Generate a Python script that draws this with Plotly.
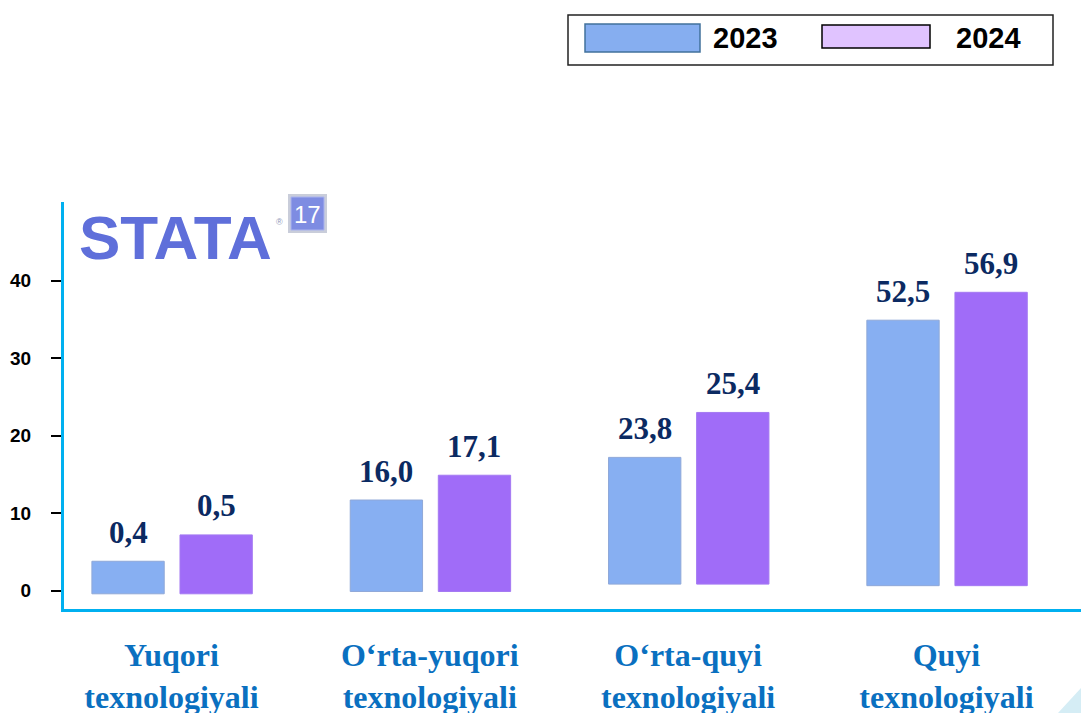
import plotly.graph_objects as go

# ---------------- data ----------------
categories = ["Yuqori", "O‘rta-yuqori", "O‘rta-quyi", "Quyi"]
category_suffix = "texnologiyali"
series_names = ["2023", "2024"]
labels_2023 = [0.4, 16.0, 23.8, 52.5]
labels_2024 = [0.5, 17.1, 25.4, 56.9]
# drawn bar extents (axis units)
bar_top_2023 = [3.8, 11.7, 17.2, 34.9]
bar_top_2024 = [7.2, 14.9, 23.0, 38.5]
bar_base = [-0.4, -0.1, 0.85, 0.65]
y_ticks = [0, 10, 20, 30, 40]

# ---------------- styling ----------------
W, H = 1081, 713
ML, MR, MT, MB = 64, 0, 202, 104
PW, PH = W - ML - MR, H - MT - MB
BLUE = "#87AFF2"
PURPLE = "#A06CF8"
AXIS = "#00B0F0"
NAVY = "#0B2A62"
CAT = "#0A70C0"
SERIF = "Liberation Serif"
SANS = "Liberation Sans"

xi = list(range(len(categories)))
BW = 0.28
OFF = [-0.308, 0.033]


def px(x):
    return (x - ML) / PW


def py(y):
    return (H - MB - y) / PH


def fmt(v):
    return f"{v:.1f}".replace(".", ",")


fig = go.Figure()
for name, tops, color, off, lc in [
    (series_names[0], bar_top_2023, BLUE, OFF[0], "#8FA8D8"),
    (series_names[1], bar_top_2024, PURPLE, OFF[1], "#A47AF2"),
]:
    fig.add_trace(go.Bar(
        name=name, x=xi, y=[t - b for t, b in zip(tops, bar_base)], base=bar_base,
        width=BW, offset=off, marker=dict(color=color, line=dict(color=lc, width=1)),
        showlegend=False, hoverinfo="skip",
    ))

annotations = []
for labels, tops, off in [(labels_2023, bar_top_2023, OFF[0]), (labels_2024, bar_top_2024, OFF[1])]:
    for i, (lab, top) in enumerate(zip(labels, tops)):
        annotations.append(dict(
            x=xi[i] + off + BW / 2, y=top, xref="x", yref="y", text=fmt(lab),
            showarrow=False, xanchor="center", yanchor="middle", yshift=29,
            font=dict(family=SERIF, size=31, color=NAVY, weight="bold"),
        ))

# logo
annotations.append(dict(x=px(175), y=py(238), xref="paper", yref="paper", text="STATA",
                        showarrow=False, xanchor="center", yanchor="middle",
                        font=dict(family=SANS, size=62, color="#5F6FDA", weight="bold")))
annotations.append(dict(x=px(279), y=py(222), xref="paper", yref="paper", text="®",
                        showarrow=False, xanchor="center", yanchor="middle",
                        font=dict(family=SANS, size=9, color="#9098B8")))
annotations.append(dict(x=px(307.5), y=py(214), xref="paper", yref="paper", text="17",
                        showarrow=False, xanchor="center", yanchor="middle",
                        font=dict(family=SANS, size=24, color="white")))

# legend texts
annotations.append(dict(x=px(711), y=py(38), xref="paper", yref="paper", text=series_names[0],
                        showarrow=False, xanchor="left", yanchor="middle",
                        font=dict(family=SANS, size=29, color="black", weight="bold")))
annotations.append(dict(x=px(954), y=py(38), xref="paper", yref="paper", text=series_names[1],
                        showarrow=False, xanchor="left", yanchor="middle",
                        font=dict(family=SANS, size=29, color="black", weight="bold")))

shapes = [
    # logo "17" box
    dict(type="rect", xref="paper", yref="paper", x0=px(288), x1=px(327), y0=py(233), y1=py(194),
         fillcolor="#C9CDDA", line=dict(width=0)),
    dict(type="rect", xref="paper", yref="paper", x0=px(291), x1=px(324), y0=py(230), y1=py(197),
         fillcolor="#7E8CE2", line=dict(color="#AAB3EE", width=1)),
    # legend
    dict(type="rect", xref="paper", yref="paper", x0=px(568), x1=px(1053), y0=py(65), y1=py(15),
         fillcolor="white", line=dict(color="#222222", width=1.5)),
    dict(type="rect", xref="paper", yref="paper", x0=px(585), x1=px(700), y0=py(52), y1=py(24),
         fillcolor="#86AEF0", line=dict(color="#41719C", width=1.5)),
    dict(type="rect", xref="paper", yref="paper", x0=px(822), x1=px(930), y0=py(48), y1=py(25),
         fillcolor="#E0C3FF", line=dict(color="black", width=1.5)),
    # corner decoration
    dict(type="path", xref="paper", yref="paper",
         path=f"M {px(1058)} {py(713)} L {px(1081)} {py(688)} L {px(1081)} {py(713)} Z",
         fillcolor="#D5EDF5", line=dict(width=0)),
]

fig.update_layout(
    width=W, height=H, autosize=False,
    margin=dict(l=ML, r=MR, t=MT, b=MB, pad=0, autoexpand=False),
    paper_bgcolor="white", plot_bgcolor="white",
    barmode="overlay", showlegend=False,
    annotations=annotations, shapes=shapes,
)
fig.update_xaxes(
    range=[-0.416, 3.521], tickvals=xi,
    ticktext=[f"{c}<br>{category_suffix}" for c in categories],
    tickfont=dict(family=SERIF, size=32, color=CAT, weight="bold"),
    showline=True, linecolor=AXIS, linewidth=3, ticks="", showgrid=False, zeroline=False,
    ticklabelstandoff=16, fixedrange=True, automargin=False,
)
fig.update_yaxes(
    range=[-2.36, 50.15], tickvals=y_ticks,
    tickfont=dict(family=SANS, size=19, color="black", weight="bold"),
    showline=True, linecolor=AXIS, linewidth=3, ticks="outside", ticklen=10,
    tickcolor="black", tickwidth=2, showgrid=False, zeroline=False,
    ticklabelstandoff=16, fixedrange=True, automargin=False,
)

fig.write_html(
    "out.html",
    config={"displayModeBar": False, "staticPlot": True},
    post_script="document.body.style.margin='0';document.body.style.overflow='hidden';",
)
